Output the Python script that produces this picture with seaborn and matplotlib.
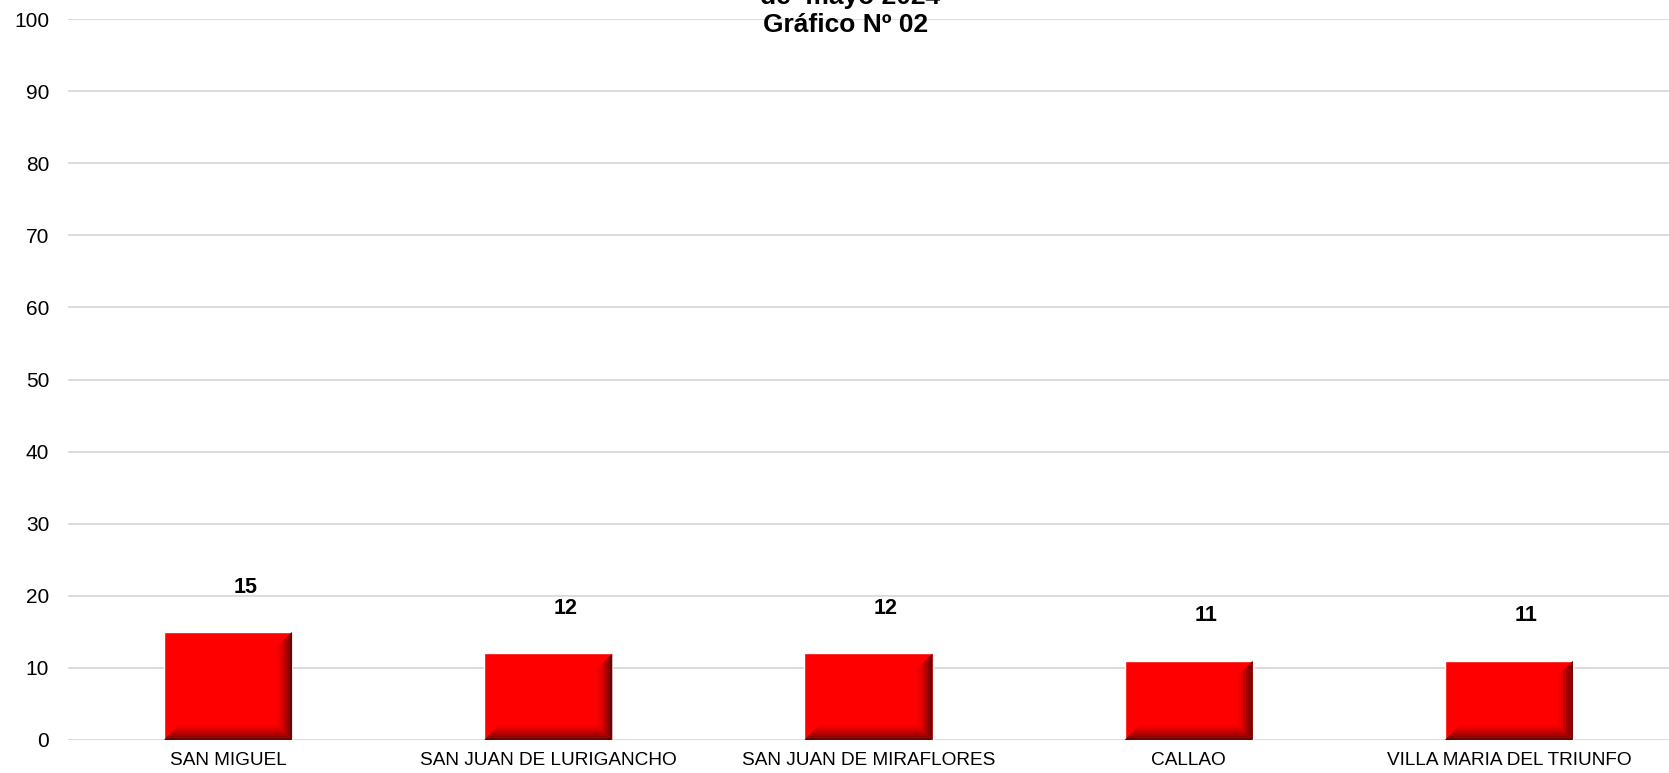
import matplotlib
matplotlib.use("Agg")
import matplotlib.pyplot as plt
import numpy as np
import pandas as pd
import seaborn as sns
from matplotlib.patches import Polygon

# Data
distritos = [
    "SAN MIGUEL",
    "SAN JUAN DE LURIGANCHO",
    "SAN JUAN DE MIRAFLORES",
    "CALLAO",
    "VILLA MARIA DEL TRIUNFO",
]
casos = [15, 12, 12, 11, 11]
y_ticks = [0, 10, 20, 30, 40, 50, 60, 70, 80, 90, 100]

titulo_1 = "de  mayo 2024"
titulo_2 = "Gráfico Nº 02"

df = pd.DataFrame({"distrito": distritos, "casos": casos})

sns.set_theme(style="white")
plt.rcParams["font.family"] = ["Liberation Sans", "DejaVu Sans"]
plt.rcParams["text.color"] = "black"
plt.rcParams["xtick.color"] = "black"
plt.rcParams["ytick.color"] = "black"

fig = plt.figure(figsize=(16.69, 7.73), dpi=100)
ax = fig.add_axes([0.0407, 0.0427, 0.9593, 0.9327])

sns.barplot(data=df, x="distrito", y="casos", color="#ff0000",
            saturation=1, width=0.4, ax=ax, zorder=3)

# bevel: darker gradient along the right and bottom edges of every bar
bx = 0.045   # bevel width in x (data units)
by = 2.0     # bevel height in y (data units)
shades = ["#f00000", "#dc0000", "#c40000", "#a80000", "#8a0000", "#6e0000"]
n = len(shades)
for p in ax.patches:
    x0, w, h = p.get_x(), p.get_width(), p.get_height()
    x1 = x0 + w
    for k, col in enumerate(shades):
        f0 = 1 - k / n
        f1 = 1 - (k + 1) / n
        # right strip
        ax.add_patch(Polygon(
            [(x1 - bx * f0, by * f0), (x1 - bx * f0, h - by * f0),
             (x1 - bx * f1, h - by * f1), (x1 - bx * f1, by * f1)],
            closed=True, facecolor=col, edgecolor="none", zorder=4))
        # bottom strip
        ax.add_patch(Polygon(
            [(x0 + bx * f0, by * f0), (x1 - bx * f0, by * f0),
             (x1 - bx * f1, by * f1), (x0 + bx * f1, by * f1)],
            closed=True, facecolor=col, edgecolor="none", zorder=4))

for i, v in enumerate(casos):
    ax.text(i + 0.055, v + 6.2, str(v), ha="center", va="center",
            fontsize=15.5, fontweight="bold", color="black")

ax.set_ylim(0, 100)
ax.set_xlim(-0.5, len(distritos) - 0.5)
ax.set_yticks(y_ticks)
ax.set_yticklabels([str(t) for t in y_ticks], fontsize=15)
ax.tick_params(axis="x", labelsize=13.7, length=0, pad=9)
ax.tick_params(axis="y", length=0, pad=13.5)
ax.set_xlabel("")
ax.set_ylabel("")
ax.yaxis.grid(True, color="#d9d9d9", linewidth=1.3, zorder=0)
ax.set_axisbelow(True)
for s in ax.spines.values():
    s.set_visible(False)

fig.text(850 / 1669, 1 - 4 / 773, titulo_1, ha="center", va="baseline",
         fontsize=19, fontweight="bold")
fig.text(846 / 1669, 1 - 32 / 773, titulo_2, ha="center", va="baseline",
         fontsize=19, fontweight="bold")

fig.savefig("out.png", dpi=100)
